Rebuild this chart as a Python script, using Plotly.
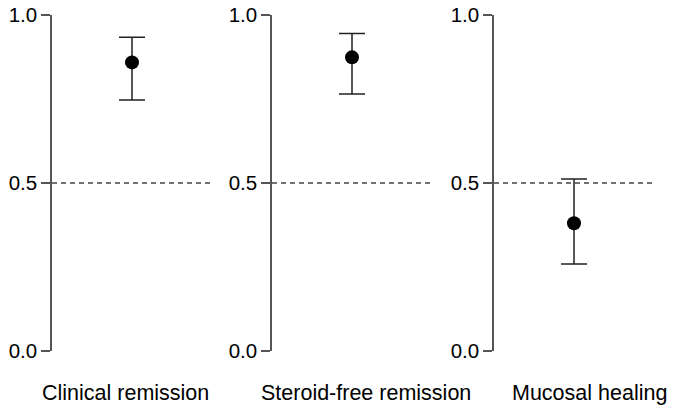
import plotly.graph_objects as go

categories = ["Clinical remission", "Steroid-free remission", "Mucosal healing"]
estimates = [0.859, 0.874, 0.380]
upper = [0.934, 0.945, 0.512]
lower = [0.747, 0.765, 0.259]
y_ticks = [0.0, 0.5, 1.0]
y_tick_labels = ["0.0", "0.5", "1.0"]
reference_line = 0.5

W, H = 673, 411
domains = [(52, 212), (272, 432), (494, 654)]
label_centers = [125.5, 366.5, 589]

fig = go.Figure()
axis_col = "#555555"
font = "Liberation Sans, Arial, sans-serif"

for i, cat in enumerate(categories):
    xa = "x" if i == 0 else f"x{i+1}"
    ya = "y" if i == 0 else f"y{i+1}"
    fig.add_trace(go.Scatter(
        x=[1], y=[estimates[i]], mode="markers",
        marker=dict(size=14, color="black"),
        error_y=dict(type="data", symmetric=False,
                     array=[upper[i] - estimates[i]],
                     arrayminus=[estimates[i] - lower[i]],
                     color="#222222", thickness=1.5, width=13),
        xaxis=xa, yaxis=ya, showlegend=False, cliponaxis=False,
    ))
    fig.add_shape(type="line", xref=xa, yref=ya, x0=0, x1=2,
                  y0=reference_line, y1=reference_line,
                  line=dict(color="#444444", width=1.5, dash="5px,4px"))
    d0, d1 = domains[i]
    xkey = "xaxis" if i == 0 else f"xaxis{i+1}"
    ykey = "yaxis" if i == 0 else f"yaxis{i+1}"
    fig.layout[xkey] = dict(domain=[d0 / W, d1 / W], range=[0, 2],
                            visible=False, anchor=ya, fixedrange=True)
    fig.layout[ykey] = dict(domain=[60 / H, 1 - 15 / H], range=[0, 1],
                            anchor=xa, showgrid=False, zeroline=False,
                            showline=True, linecolor=axis_col, linewidth=1.5,
                            ticks="outside", ticklen=9, tickwidth=1.5,
                            tickcolor=axis_col,
                            tickvals=y_ticks, ticktext=y_tick_labels,
                            tickfont=dict(size=20.5, color="black", family=font),
                            automargin=False)
    fig.add_annotation(text=cat, xref="paper", yref="paper",
                       x=label_centers[i] / W, y=1 - 393 / H,
                       xanchor="center", yanchor="middle", showarrow=False,
                       font=dict(size=21.5, color="black", family=font))

fig.update_layout(width=W, height=H, margin=dict(l=0, r=0, t=0, b=0),
                  paper_bgcolor="white", plot_bgcolor="white",
                  font=dict(family=font))
fig.write_html("out.html")
